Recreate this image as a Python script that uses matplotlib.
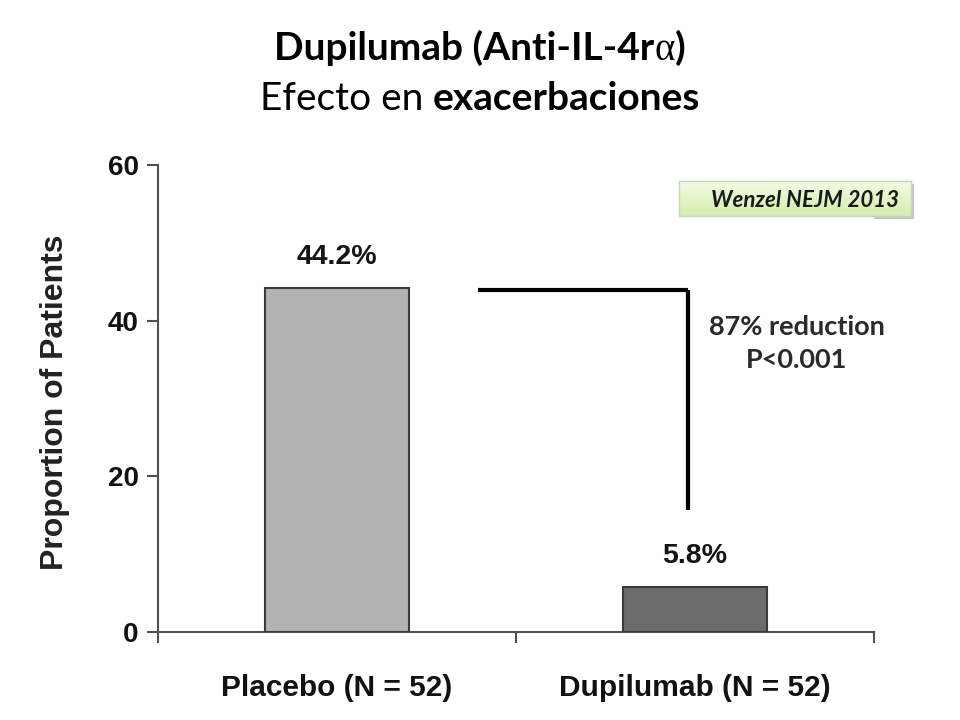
import numpy as np
import matplotlib.pyplot as plt
from matplotlib.patches import Rectangle
from matplotlib.colors import LinearSegmentedColormap

grupos = ["Placebo (N = 52)", "Dupilumab (N = 52)"]
valores = [44.2, 5.8]
etiquetas = ["44.2%", "5.8%"]
colores = ["#b2b2b2", "#6c6c6c"]
yticks = [0, 20, 40, 60]

fig = plt.figure(figsize=(9.6, 7.2), dpi=100)
fig.patch.set_facecolor("white")
ax = fig.add_axes([158/960, 1 - 632/720, 716/960, 467/720])

x = np.arange(len(grupos))
ax.bar(x, valores, width=0.405, color=colores, edgecolor="#3a3a3a", linewidth=1.5, zorder=3)
ax.set_xlim(-0.5, 1.5)
ax.set_ylim(0, 60)

for s in ["top", "right"]:
    ax.spines[s].set_visible(False)
for s in ["left", "bottom"]:
    ax.spines[s].set_color("#505050")
    ax.spines[s].set_linewidth(1.5)

ax.set_yticks(yticks)
ax.set_yticklabels([str(v) for v in yticks], family="Liberation Sans", fontweight="bold", fontsize=20, color="#111111")
ax.tick_params(axis="y", length=8, width=1.5, color="#505050", pad=6)

# separadores de categoria en el eje x
ax.set_xticks([-0.5, 0.5, 1.5])
ax.set_xticklabels([])
ax.tick_params(axis="x", length=8, width=1.5, color="#505050", direction="out")
for xi, g in zip(x, grupos):
    ax.text(xi, -0.12, g, transform=ax.get_xaxis_transform(), ha="center", va="center",
            family="Liberation Sans", fontweight="bold", fontsize=21.5, color="#111111")

fig.text(55/960, 1 - 402/720, "Proportion of Patients", rotation=90, ha="center", va="center",
         family="Liberation Sans", fontweight="bold", fontsize=23, color="#222222")

for xi, v, lab in zip(x, valores, etiquetas):
    ax.text(xi, v + 4, lab, ha="center", va="center", family="Liberation Sans",
            fontweight="bold", fontsize=20.5, color="#151515")

# corchete de la reduccion
ax.plot([0.394, 0.98], [43.9, 43.9], color="black", lw=3, solid_capstyle="butt", zorder=4)
ax.plot([0.98, 0.98], [43.9, 15.7], color="black", lw=3, solid_capstyle="butt", zorder=4)
ax.text(1.285, 37.1, "87% reduction\nP<0.001", ha="center", va="center", family="Lato",
        fontweight="bold", fontsize=19.5, color="#2a2a2a", linespacing=1.45)

# caja Wenzel NEJM 2013 con degradado y sombra
bx0, bx1, by0, by1 = 679/960, 911/960, 1 - 216/720, 1 - 181/720
fig.patches.append(Rectangle((bx0 + 3/960, by0 - 3/720), bx1 - bx0, by1 - by0,
                             transform=fig.transFigure, facecolor="#c4c4c4", edgecolor="none", zorder=-1))
bax = fig.add_axes([bx0, by0, bx1 - bx0, by1 - by0])
bax.set_zorder(2)
grad = np.linspace(0, 1, 50).reshape(-1, 1)
cm = LinearSegmentedColormap.from_list("v", ["#f3fbe6", "#d4eeae"])
bax.imshow(grad, aspect="auto", cmap=cm, extent=[0, 1, 1, 0])
bax.set_xticks([])
bax.set_yticks([])
for s in bax.spines.values():
    s.set_color("#c9d8b4")
    s.set_linewidth(1)
bax.text(0.95, 0.45, "Wenzel NEJM 2013", transform=bax.transAxes, ha="right", va="center",
         family="Lato", fontweight="bold", style="italic", fontsize=16, color="#1a1a1a")

# titulo con pesos mezclados
def linea(partes, ybase):
    r = fig.canvas.get_renderer()
    textos = []
    for txt, w, fam in partes:
        t = fig.text(0, ybase, txt, family=[fam, "DejaVu Sans"], fontweight=w, fontsize=28,
                     color="black", va="baseline", ha="left")
        textos.append(t)
    anchos = [t.get_window_extent(r).width for t in textos]
    x0 = (960 - sum(anchos)) / 2
    for t, a in zip(textos, anchos):
        t.set_x(x0 / 960)
        x0 += a

linea([("Dupilumab (Anti-IL-4r", "bold", "Lato"), ("α", "normal", "Liberation Serif"), (")", "bold", "Lato")], 1 - 60/720)
linea([("Efecto en ", "normal", "Lato"), ("exacerbaciones", "bold", "Lato")], 1 - 110/720)

fig.savefig("out.png", dpi=100, facecolor="white")
